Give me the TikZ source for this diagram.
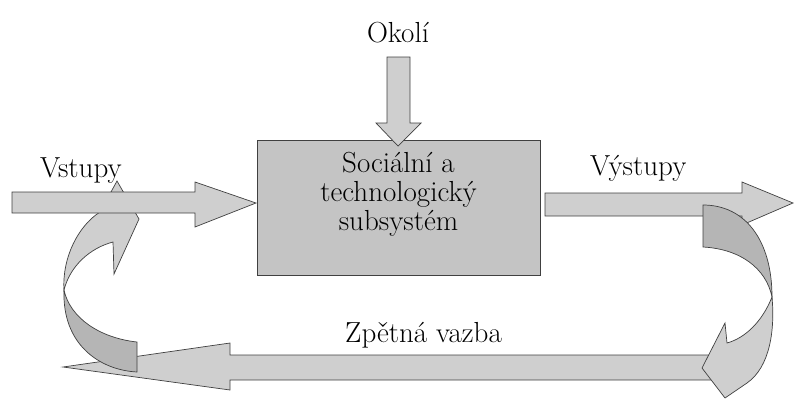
\documentclass[tikz,border=0pt]{standalone}
\usetikzlibrary{positioning}

\begin{document}
\begin{tikzpicture}[x=1pt,y=-1pt,
	blk/.style={draw=black!75,line width=0.7pt,fill=gray!38},
	backside/.style={draw=black!75,line width=0.7pt,fill=gray!58},
	sysbox/.style={draw=black!75,line width=0.7pt,fill=gray!46,minimum width=283pt,minimum height=135pt},
	lbl/.style={font=\fontsize{29}{29}\selectfont,inner sep=0pt}]
	\useasboundingbox (0,0) rectangle (794,399);
	% zpetna vazba
	\filldraw[blk] (735,355) -- (230,355) -- (230,343) -- (63,367) -- (230,390) -- (230,380) -- (735,380) -- cycle;
	% vystupy
	\filldraw[blk] (545,193) -- (742,193) -- (742,182) -- (793,203) -- (742,225) -- (742,216) -- (545,216) -- cycle;
	% levy oblouk
	\filldraw[backside] (64,290) .. controls (62,345) and (100,370) .. (137,372) -- (137,342) .. controls (100,338) and (70,318) .. (64,290) -- cycle;
	\filldraw[blk] (64,290) .. controls (62,258) and (78,226) .. (100,212) -- (117,181) -- (139,219) -- (114,274) -- (113,242) .. controls (90,248) and (70,266) .. (64,290) -- cycle;
	% pravy oblouk
	\filldraw[backside] (703,205) .. controls (745,205) and (772,240) .. (772,297) .. controls (766,268) and (740,249) .. (703,247) -- cycle;
	\filldraw[blk] (772,297) .. controls (762,322) and (745,338) .. (727,343) -- (725,323) -- (702,368) -- (725,398) -- (747,383) .. controls (770,367) and (775,330) .. (772,297) -- cycle;
	% vstupy
	\filldraw[blk] (12,192) -- (195,192) -- (195,182) -- (256,203) -- (195,227) -- (195,213) -- (12,213) -- cycle;
	% system
	\node[sysbox] (sys) at (398.5,207.5) {};
	\node[lbl,align=center] (systxt) at ([yshift=13pt]sys.center) {Sociální a\\technologický\\subsystém};
	% okoli
	\filldraw[blk] (387,57) -- (410,57) -- (410,123) -- (421,123) -- (398,146) -- (376,123) -- (387,123) -- cycle;
	\node[lbl,anchor=base] (okoli) at (398,42) {Okolí};
	\node[lbl,anchor=base west] (vstupy) at (40,177) {Vstupy};
	\node[lbl,anchor=base west] (vystupy) at (590,175) {Výstupy};
	\node[lbl,anchor=base west] (zpetna) at (345,342) {Zpětná vazba};
\end{tikzpicture}
\end{document}
